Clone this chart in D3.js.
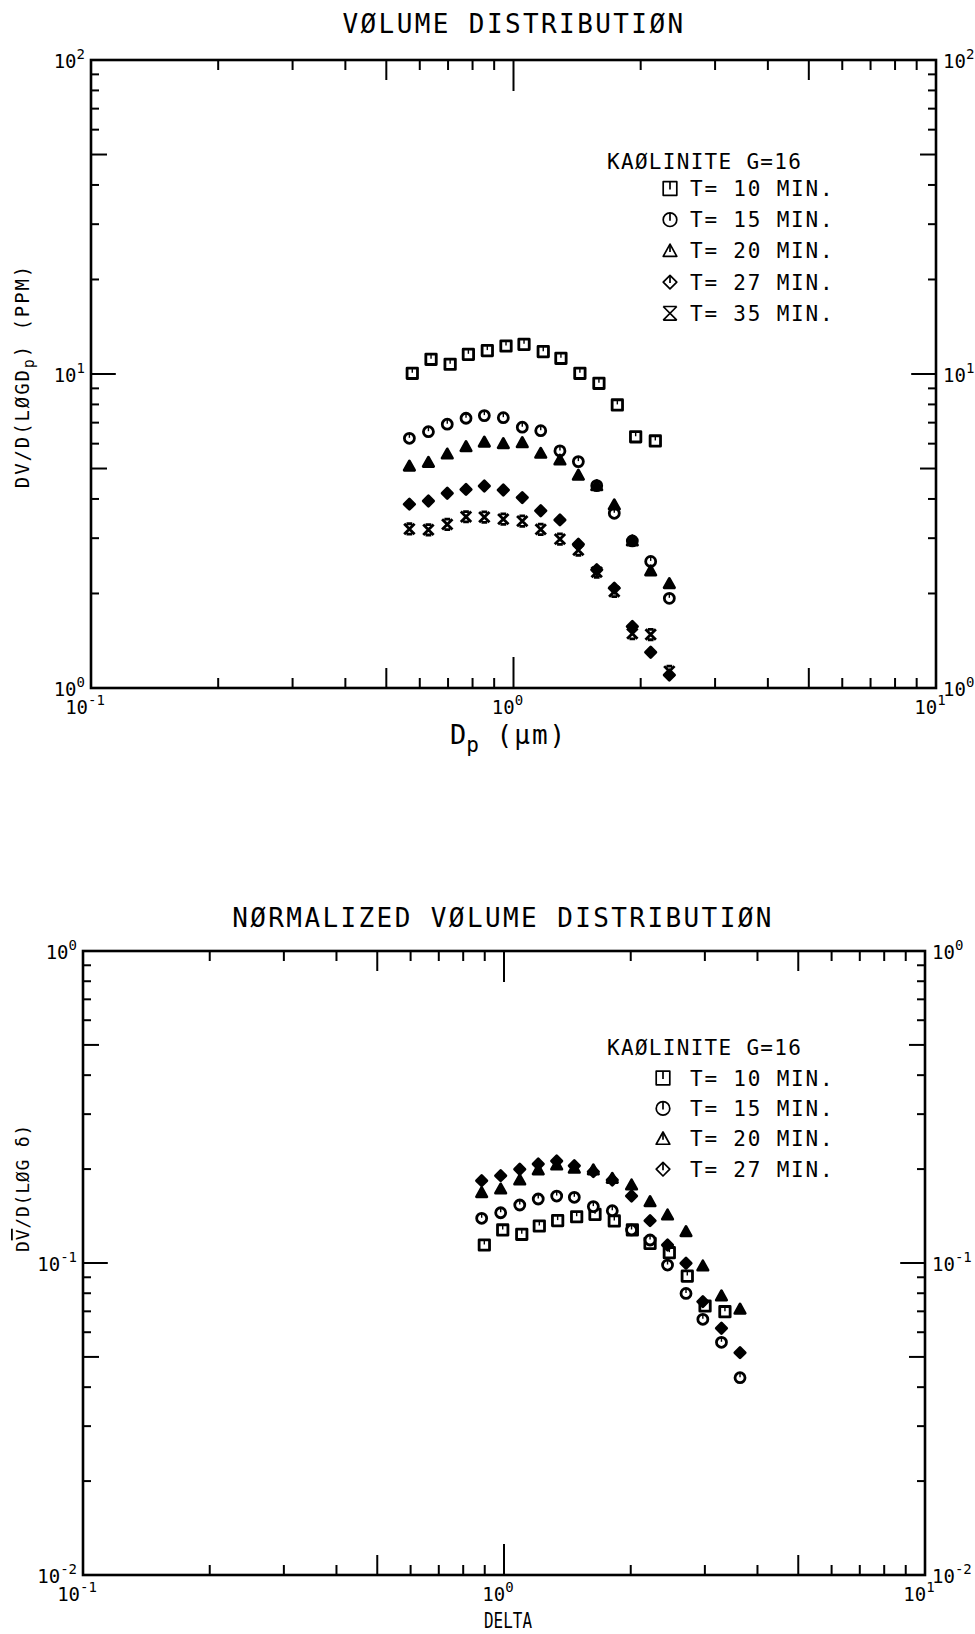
<!DOCTYPE html>
<html>
<head>
<meta charset="utf-8">
<script src="https://cdn.jsdelivr.net/npm/d3@7"></script>
<style>
  body { margin: 0; background: #fff; }
  svg { display: block; }
</style>
</head>
<body>
<div id="chart"></div>
<script>
// volume distribution, top panel (Dp in um, DV/D(logDp) in ppm)
const dpSquare = [0.576, 0.638, 0.708, 0.782, 0.867, 0.960, 1.059, 1.176, 1.295, 1.436, 1.593, 1.761, 1.946, 2.166];
const dvT10 = [10.05, 11.14, 10.74, 11.55, 11.87, 12.28, 12.43, 11.78, 11.22, 10.05, 9.34, 7.97, 6.31, 6.12];
const dp = [0.567, 0.629, 0.697, 0.772, 0.853, 0.946, 1.049, 1.160, 1.288, 1.424, 1.574, 1.732, 1.911, 2.112, 2.338];
const dvT15 = [6.24, 6.55, 6.92, 7.23, 7.37, 7.26, 6.77, 6.60, 5.69, 5.26, 4.41, 3.60, 2.94, 2.53, 1.93];
const dvT20 = [5.09, 5.23, 5.56, 5.87, 6.07, 6.00, 6.04, 5.59, 5.32, 4.76, 4.41, 3.83, 2.94, 2.36, 2.15];
const dvT27 = [3.85, 3.94, 4.17, 4.29, 4.40, 4.27, 4.04, 3.67, 3.43, 2.87, 2.38, 2.08, 1.57, 1.30, 1.10];
const dvT35 = [3.21, 3.19, 3.32, 3.51, 3.50, 3.45, 3.40, 3.20, 2.98, 2.75, 2.34, 2.03, 1.49, 1.48, 1.13];

// normalized volume distribution, bottom panel (delta)
const deltaSquare = [0.898, 0.993, 1.102, 1.213, 1.341, 1.488, 1.645, 1.828, 2.018, 2.223, 2.470, 2.725, 3.003, 3.348];
const nvT10 = [0.1142, 0.1276, 0.1236, 0.1314, 0.1367, 0.1407, 0.1432, 0.1364, 0.1276, 0.1156, 0.1079, 0.0908, 0.0728, 0.0698];
const delta = [0.885, 0.982, 1.090, 1.206, 1.334, 1.469, 1.630, 1.808, 2.009, 2.223, 2.446, 2.706, 2.967, 3.285, 3.636];
const nvT15 = [0.1391, 0.1449, 0.1534, 0.1604, 0.1639, 0.1624, 0.1516, 0.1471, 0.1276, 0.1185, 0.0985, 0.0799, 0.0660, 0.0557, 0.0429];
const nvT20 = [0.1680, 0.1726, 0.1845, 0.1987, 0.2061, 0.2012, 0.1987, 0.1868, 0.1778, 0.1572, 0.1425, 0.1260, 0.0978, 0.0784, 0.0711];
const nvT27 = [0.1836, 0.1905, 0.1997, 0.2076, 0.2123, 0.2050, 0.1962, 0.1845, 0.1639, 0.1367, 0.1142, 0.0998, 0.0752, 0.0618, 0.0516];

const legendHeader = "KAØLINITE G=16";
const legendTop = ["T= 10 MIN.", "T= 15 MIN.", "T= 20 MIN.", "T= 27 MIN.", "T= 35 MIN."];
const symbolsTop = ["square", "circle", "triangle", "diamond", "xcap"];
const legendBottom = ["T= 10 MIN.", "T= 15 MIN.", "T= 20 MIN.", "T= 27 MIN."];

const FONT = "'DejaVu Sans Mono', monospace";

const svg = d3.select("#chart").append("svg")
    .attr("width", 975)
    .attr("height", 1634)
    .style("background", "#fff");

// plotter style symbols
function symbolPath(type, s, filled) {
    if (type == "square") return `M${-s},${-s}H${s}V${s}H${-s}Z`;
    if (type == "triangle") return `M0,${-s}L${s},${s * 0.8}H${-s}Z`;
    if (type == "diamond") return `M0,${-s}L${s},0L0,${s}L${-s},0Z`;
    if (type == "xcap") {
        let c = filled ? s * 0.55 : s;
        return `M${-c},${-s}H${c}M${-c},${s}H${c}M${-s},${-s}L${s},${s}M${s},${-s}L${-s},${s}`;
    }
    return "";
}

function drawSymbol(g, type, x, y, s, sw, filled) {
    let sg = g.append("g").attr("transform", `translate(${x},${y})`);
    if (type == "circle") {
        sg.append("circle").attr("r", s)
            .attr("fill", filled ? "#fff" : "none")
            .attr("stroke", "#000").attr("stroke-width", sw);
    } else {
        let fill = "none";
        if (filled) fill = (type == "triangle" || type == "diamond") ? "#000" : "#fff";
        sg.append("path").attr("d", symbolPath(type, s, filled))
            .attr("fill", fill)
            .attr("stroke", "#000").attr("stroke-width", sw)
            .attr("stroke-linejoin", "round");
    }
    // little centre mark of the plotter symbols
    if (type != "xcap") {
        sg.append("line").attr("x1", 0).attr("x2", 0)
            .attr("y1", -s).attr("y2", filled ? -s * 0.1 : s * 0.15)
            .attr("stroke", "#000")
            .attr("stroke-width", filled ? 1.4 : sw);
    }
}

function expLabel(g, x, y, exp, anchor) {
    let t = g.append("text")
        .attr("x", x).attr("y", y)
        .attr("text-anchor", anchor)
        .attr("font-family", FONT)
        .attr("font-size", 19)
        .attr("fill", "#000");
    t.append("tspan").text("10");
    t.append("tspan").attr("dy", -9).attr("font-size", 14).text(exp);
}

function drawPanel(x, y, labelGap) {
    let g = svg.append("g");
    let [x0, x1] = x.range();
    let [y0, y1] = y.range(); // y0 bottom, y1 top

    function tickLen(t) {
        let m = Math.round(t / Math.pow(10, Math.floor(Math.log10(t) + 1e-9)));
        if (m == 1) return 31;
        if (m == 5) return 20;
        return 10;
    }

    x.ticks().forEach(t => {
        let px = x(t);
        if (Math.abs(px - x0) < 1 || Math.abs(px - x1) < 1) return;
        let len = tickLen(t);
        g.append("line").attr("x1", px).attr("x2", px).attr("y1", y0).attr("y2", y0 - len)
            .attr("stroke", "#000").attr("stroke-width", 2);
        g.append("line").attr("x1", px).attr("x2", px).attr("y1", y1).attr("y2", y1 + len)
            .attr("stroke", "#000").attr("stroke-width", 2);
    });
    y.ticks().forEach(t => {
        let py = y(t);
        if (Math.abs(py - y0) < 1 || Math.abs(py - y1) < 1) return;
        let len = tickLen(t) * 0.8;
        g.append("line").attr("x1", x0).attr("x2", x0 + len).attr("y1", py).attr("y2", py)
            .attr("stroke", "#000").attr("stroke-width", 2);
        g.append("line").attr("x1", x1).attr("x2", x1 - len).attr("y1", py).attr("y2", py)
            .attr("stroke", "#000").attr("stroke-width", 2);
    });

    g.append("rect")
        .attr("x", x0).attr("y", y1)
        .attr("width", x1 - x0).attr("height", y0 - y1)
        .attr("fill", "none").attr("stroke", "#000").attr("stroke-width", 2.6);

    // decade labels
    let xd = x.domain(), yd = y.domain();
    for (let e = Math.log10(xd[0]); e <= Math.log10(xd[1]) + 1e-9; e++) {
        expLabel(g, x(Math.pow(10, e)) - 6, y0 + labelGap, String(Math.round(e)), "middle");
    }
    for (let e = Math.log10(yd[0]); e <= Math.log10(yd[1]) + 1e-9; e++) {
        let py = y(Math.pow(10, e)) + 8;
        expLabel(g, x0 - 6, py, String(Math.round(e)), "end");
        expLabel(g, x1 + 7, py, String(Math.round(e)), "start");
    }
    return g;
}

function plotSeries(g, x, y, xs, ys, type) {
    xs.forEach((d, i) => drawSymbol(g, type, x(d), y(ys[i]), type == "circle" ? 5 : 5.2, 2.8, true));
}

function drawLegend(g, hx, hy, sx, tx, rowY, step, labels, types) {
    g.append("text").attr("x", hx).attr("y", hy)
        .attr("font-family", FONT).attr("font-size", 21)
        .attr("letter-spacing", 1.3).text(legendHeader);
    labels.forEach((l, i) => {
        let ry = rowY + i * step;
        drawSymbol(g, types[i], sx, ry, 6.8, 1.7, false);
        g.append("text").attr("x", tx).attr("y", ry + 7.5)
            .attr("font-family", FONT).attr("font-size", 21)
            .attr("letter-spacing", 1.8).text(l);
    });
}

// ---------- top panel ----------
const xTop = d3.scaleLog().domain([0.1, 10]).range([91, 936]);
const yTop = d3.scaleLog().domain([1, 100]).range([688, 60]);
const gTop = drawPanel(xTop, yTop, 26);

svg.append("text").attr("x", 514).attr("y", 33)
    .attr("text-anchor", "middle").attr("font-family", FONT)
    .attr("font-size", 26).attr("letter-spacing", 2.4)
    .text("VØLUME DISTRIBUTIØN");

plotSeries(gTop, xTop, yTop, dpSquare, dvT10, "square");
plotSeries(gTop, xTop, yTop, dp, dvT15, "circle");
plotSeries(gTop, xTop, yTop, dp, dvT20, "triangle");
plotSeries(gTop, xTop, yTop, dp, dvT27, "diamond");
plotSeries(gTop, xTop, yTop, dp, dvT35, "xcap");

drawLegend(gTop, 607, 169, 670, 690, 188.5, 31.2, legendTop, symbolsTop);

// x label Dp (um)
let xl = svg.append("text").attr("x", 450).attr("y", 744)
    .attr("font-family", FONT).attr("font-size", 27);
xl.append("tspan").text("D");
xl.append("tspan").attr("dy", 8).attr("font-size", 21).text("p");
xl.append("tspan").attr("dy", -8).attr("font-size", 26).attr("letter-spacing", 2).text("  (μm)");

// y label
let yl = svg.append("text")
    .attr("transform", "translate(29,376) rotate(-90)")
    .attr("text-anchor", "middle")
    .attr("font-family", FONT).attr("font-size", 19).attr("letter-spacing", 1.9);
yl.append("tspan").text("DV/D(LØGD");
yl.append("tspan").attr("dy", 5).attr("font-size", 15).text("p");
yl.append("tspan").attr("dy", -5).attr("font-size", 19).text(")  (PPM)");

// ---------- bottom panel ----------
const xBot = d3.scaleLog().domain([0.1, 10]).range([83, 925]);
const yBot = d3.scaleLog().domain([0.01, 1]).range([1575, 951]);
const gBot = drawPanel(xBot, yBot, 26);

svg.append("text").attr("x", 503).attr("y", 927)
    .attr("text-anchor", "middle").attr("font-family", FONT)
    .attr("font-size", 26).attr("letter-spacing", 2.4)
    .text("NØRMALIZED VØLUME DISTRIBUTIØN");

plotSeries(gBot, xBot, yBot, deltaSquare, nvT10, "square");
plotSeries(gBot, xBot, yBot, delta, nvT15, "circle");
plotSeries(gBot, xBot, yBot, delta, nvT20, "triangle");
plotSeries(gBot, xBot, yBot, delta, nvT27, "diamond");

drawLegend(gBot, 607, 1055, 663, 690, 1078, 30.4, legendBottom, symbolsTop.slice(0, 4));

svg.append("text").attr("x", 508).attr("y", 1628)
    .attr("text-anchor", "middle").attr("font-family", FONT)
    .attr("font-size", 22).attr("textLength", 48).attr("lengthAdjust", "spacingAndGlyphs")
    .text("DELTA");

let yl2 = svg.append("text")
    .attr("transform", "translate(29,1188) rotate(-90)")
    .attr("text-anchor", "middle")
    .attr("font-family", FONT).attr("font-size", 18).attr("letter-spacing", 0.8);
yl2.append("tspan").text("D");
yl2.append("tspan").style("text-decoration", "overline").text("V");
yl2.append("tspan").text("/D(LØG δ)");
</script>
</body>
</html>
